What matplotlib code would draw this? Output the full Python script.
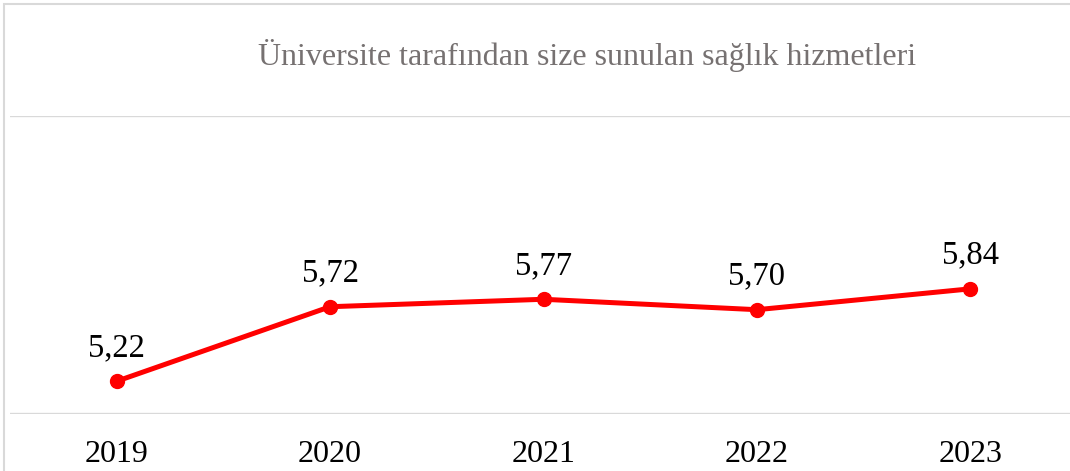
import matplotlib
matplotlib.use("Agg")
import matplotlib.pyplot as plt
from matplotlib.patches import Rectangle

years = ["2019", "2020", "2021", "2022", "2023"]
scores = [5.22, 5.72, 5.77, 5.70, 5.84]
labels = ["5,22", "5,72", "5,77", "5,70", "5,84"]
title = "Üniversite tarafından size sunulan sağlık hizmetleri"

plt.rcParams["font.family"] = ["Liberation Serif", "DejaVu Serif"]

W, H = 1070, 471
fig = plt.figure(figsize=(W / 100, H / 100), dpi=100)

# chart border (cropped on the right and bottom)
fig.patches.append(Rectangle((4 / W, -0.2), 1.2, 1 - 4 / H + 0.2,
                             transform=fig.transFigure, fill=False,
                             edgecolor="#d9d9d9", linewidth=1.5))

# plot area runs past the right edge of the picture
ax = fig.add_axes([10 / W, 57 / H, 1067 / W, 298 / H])
x = range(len(years))
ax.plot(x, scores, color="#ff0000", linewidth=3.6, marker="o",
        markersize=10, solid_capstyle="round", zorder=3)
for i, (v, t) in enumerate(zip(scores, labels)):
    ax.annotate(t, (i, v), xytext=(0, 24), textcoords="offset points",
                ha="center", va="center", fontsize=23.5, color="black")

ax.set_xlim(-0.5, len(years) - 0.5)
ax.set_ylim(5, 7)
ax.set_yticks([5, 7])
ax.set_yticklabels([])
ax.set_xticks(list(x))
ax.set_xticklabels(years, fontsize=23)
ax.tick_params(axis="x", length=0, pad=19)
ax.tick_params(axis="y", length=0)
ax.grid(axis="y", color="#d9d9d9", linewidth=1.7)
ax.set_axisbelow(True)
for s in ax.spines.values():
    s.set_visible(False)

fig.text(587 / W, 1 - 55 / H, title, ha="center", va="center",
         fontsize=23, color="#767171")

fig.savefig("out.png", dpi=100)
